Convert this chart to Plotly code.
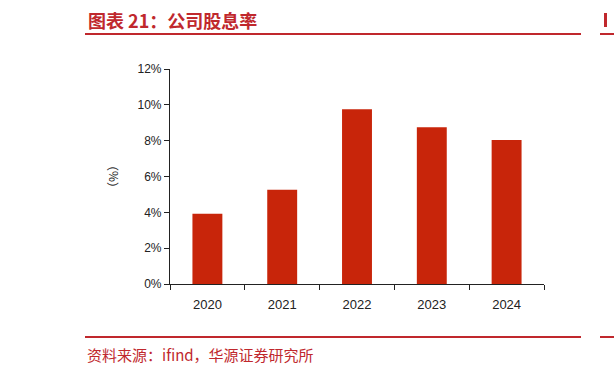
import plotly.graph_objects as go

years = ["2020", "2021", "2022", "2023", "2024"]
dividend_yield = [3.92, 5.26, 9.75, 8.75, 8.04]
y_ticks = [0, 2, 4, 6, 8, 10, 12]
y_tick_labels = ["0%", "2%", "4%", "6%", "8%", "10%", "12%"]

RED = "#C0282D"
BAR = "#C8250A"

fig = go.Figure()
fig.add_trace(go.Bar(x=years, y=dividend_yield, marker=dict(color=BAR, line=dict(width=0)), width=0.4))

fig.update_layout(
    width=614, height=375,
    margin=dict(l=170, r=70, t=69, b=91),
    paper_bgcolor="white", plot_bgcolor="white",
    showlegend=False,
    font=dict(family="Liberation Sans, Arial", size=12, color="#222"),
)
fig.update_xaxes(
    type="category", showline=True, linecolor="#222", linewidth=1.2,
    ticks="outside", tickson="boundaries", ticklen=5, tickcolor="#222",
    showgrid=False, tickfont=dict(size=13, color="#222"), ticklabelstandoff=8,
)
fig.update_yaxes(
    range=[0, 12], tickvals=y_ticks, ticktext=y_tick_labels,
    showline=True, linecolor="#222", linewidth=1.2,
    ticks="outside", ticklen=5, tickcolor="#222", showgrid=False, zeroline=False,
    tickfont=dict(size=12, color="#222"),
    title=dict(text="（%）", font=dict(size=12, color="#222", family="Noto Sans CJK SC"), standoff=16),
)

# header and footer
fig.add_annotation(xref="paper", yref="paper", x=(86-170)/374, y=(375-20-91)/215, xanchor="left", yanchor="middle",
                   text="<b>图表 21：公司股息率</b>", showarrow=False,
                   font=dict(family="Noto Sans CJK SC", size=18, color=RED))
fig.add_annotation(xref="paper", yref="paper", x=(85-170)/374, y=(375-354-91)/215, xanchor="left", yanchor="middle",
                   text="资料来源：ifind，华源证券研究所", showarrow=False,
                   font=dict(family="Noto Sans CJK SC", size=15, color=RED))

def px_x(x):
    return (x - 170) / 374

def px_y(y):
    return (375 - y - 91) / 215

for y in (34, 337):
    fig.add_shape(type="line", xref="paper", yref="paper", x0=px_x(85), x1=px_x(581), y0=px_y(y), y1=px_y(y),
                  line=dict(color=RED, width=2))
    fig.add_shape(type="line", xref="paper", yref="paper", x0=px_x(600), x1=px_x(614), y0=px_y(y), y1=px_y(y),
                  line=dict(color=RED, width=2))
fig.add_shape(type="rect", xref="paper", yref="paper", x0=px_x(604), x1=px_x(607), y0=px_y(27), y1=px_y(13),
              line=dict(width=0), fillcolor=RED)

fig.write_html("out.html")
